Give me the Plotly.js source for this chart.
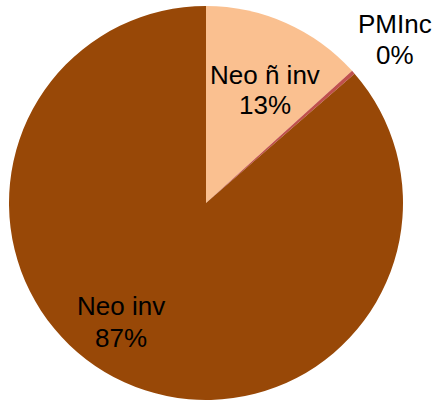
<!DOCTYPE html>
<html>
<head>
<meta charset="utf-8">
<script src="https://cdn.plot.ly/plotly-3.0.1.min.js"></script>
<style>html,body{margin:0;padding:0;background:#fff;}#chart{width:435px;height:400px;}</style>
</head>
<body>
<div id="chart"></div>
<script>
var categories = ["Neo ñ inv", "PMInc", "Neo inv"];
var values = [13.3, 0.3, 86.4];
var percentLabels = ["13%", "0%", "87%"];
var colors = ["#FAC090", "#C0504D", "#984807"];

// label line centres (pixels): [name line, percent line]
var labelPos = [
  {x: 265, y1: 75, y2: 105},
  {x: 395, y1: 24, y2: 55},
  {x: 121, y1: 306, y2: 338}
];

var W = 435, H = 400;
var font = {family: "Liberation Sans, Arial, sans-serif", size: 26, color: "#000"};
var annotations = [];
categories.forEach(function(c, i) {
  [[c, labelPos[i].y1], [percentLabels[i], labelPos[i].y2]].forEach(function(p) {
    annotations.push({
      text: p[0],
      x: labelPos[i].x / W, y: 1 - p[1] / H,
      xref: "paper", yref: "paper",
      xanchor: "center", yanchor: "middle",
      showarrow: false,
      font: font
    });
  });
});

var trace = {
  type: "pie",
  labels: categories,
  values: values,
  sort: false,
  direction: "clockwise",
  rotation: 0,
  textinfo: "none",
  hoverinfo: "none",
  marker: {colors: colors, line: {width: 0}},
  domain: {x: [9/435, 403/435], y: [0, 394/400]}
};

Plotly.newPlot("chart", [trace], {
  width: W, height: H,
  margin: {l: 0, r: 0, t: 0, b: 0},
  showlegend: false,
  paper_bgcolor: "#fff",
  annotations: annotations
}, {displayModeBar: false, staticPlot: true});
</script>
</body>
</html>
